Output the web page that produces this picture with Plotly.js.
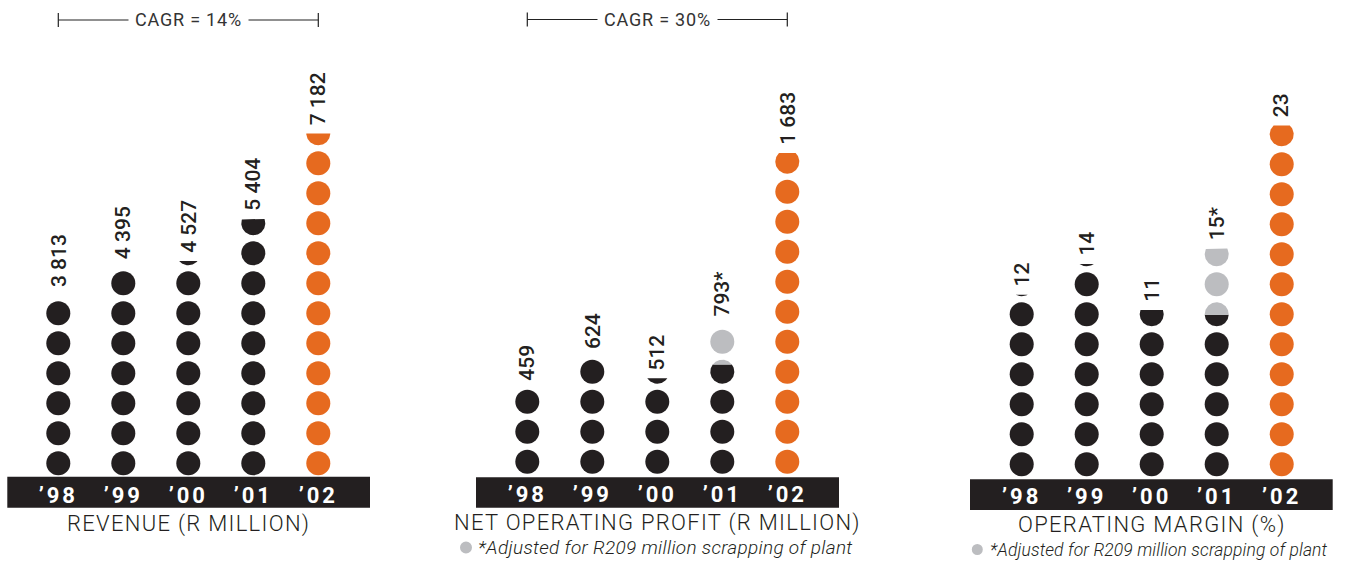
<!DOCTYPE html>
<html><head><meta charset="utf-8">
<script src="https://cdn.plot.ly/plotly-3.0.1.min.js"></script>
<style>html,body{margin:0;padding:0;background:#fff}</style>
</head><body><div id="chart" style="width:1345px;height:562px"></div>
<script>
// ---------------- data ----------------
const years = ["’98", "’99", "’00", "’01", "’02"];

const revenue = [3813, 4395, 4527, 5404, 7182];
const revenueLabels = ["3 813", "4 395", "4 527", "5 404", "7 182"];

const profit = [459, 624, 512, 793, 1683];            // adjusted (shown total)
const profitBeforeAdj = [459, 624, 512, 584, 1683];   // black part (grey = adjustment)
const profitLabels = ["459", "624", "512", "793*", "1 683"];

const margin = [12, 14, 11, 15, 23];
const marginBeforeAdj = [12, 14, 11, 10.7, 23];
const marginLabels = ["12", "14", "11", "15*", "23"];

const revenuePerDot = 625;
const profitPerDot = 156;
const marginPerDot = 1.95;

const cagrTexts = ["CAGR = 14%", "CAGR = 30%"];
const panelTitles = ["REVENUE (R MILLION)", "NET OPERATING PROFIT (R MILLION)", "OPERATING MARGIN (%)"];
const footnote = "*Adjusted for R209 million scrapping of plant";

// ---------------- style / geometry ----------------
const W = 1345, H = 562;
const COL = 65, PITCH = 30, DIAM = 24, NY = 14;
const BLACK = "#231f20", ORANGE = "#e66a1f", GREY = "#bcbdc0";
const FONT = "Roboto, 'Open Sans', sans-serif";

const panels = [
  {values: revenue, base: revenue, unit: revenuePerDot, labels: revenueLabels,
   x0: 58.3, y0: 478.3, band: [7.3, 370, 476.7, 507.7], cagr: 0, cagrY: 20,
   title: 0, titleY: 524, foot: null},
  {values: profit, base: profitBeforeAdj, unit: profitPerDot, labels: profitLabels,
   x0: 527.3, y0: 476.7, band: [476, 839, 477.3, 507.7], cagr: 1, cagrY: 19.5,
   title: 1, titleY: 523, foot: {y: 547.5, dotX: 466, d: 12, textX: 476, size: 19, ls: 0.3}},
  {values: margin, base: marginBeforeAdj, unit: marginPerDot, labels: marginLabels,
   x0: 1021.7, y0: 479.3, band: [970, 1332.7, 479.3, 510], cagr: null,
   title: 2, titleY: 525, foot: {y: 549.5, dotX: 977.3, d: 11, textX: 988, size: 17.5, ls: 0.1}}
];

const py = v => 1 - v / H;
const traces = [], shapes = [], annotations = [];
const layout = {
  width: W, height: H, margin: {l: 0, r: 0, t: 0, b: 0},
  paper_bgcolor: "#fff", plot_bgcolor: "rgba(0,0,0,0)", showlegend: false,
  font: {family: FONT, color: BLACK}
};

panels.forEach((p, pi) => {
  const sfx = pi === 0 ? "" : String(pi + 1);
  const xa = "x" + sfx, ya = "y" + sfx;
  layout["xaxis" + sfx] = {
    domain: [(p.x0 - COL / 2) / W, (p.x0 + 4 * COL + COL / 2) / W],
    range: [-0.5, 4.5], anchor: ya, fixedrange: true,
    tickmode: "array", tickvals: [0, 1, 2, 3, 4],
    ticktext: years.map(t => '<span style="letter-spacing:3px">' + t + '</span>'),
    tickfont: {family: FONT, size: 22, color: "#fff", weight: 700},
    ticks: "", showgrid: false, zeroline: false, showline: false, ticklabelstandoff: 2
  };
  layout["yaxis" + sfx] = {
    domain: [py(p.y0), py(p.y0 - NY * PITCH)], range: [0, NY], anchor: xa,
    visible: false, fixedrange: true
  };

  const rx = (DIAM / 2) / COL, ry = (DIAM / 2) / PITCH;
  const full = {}, part = {};
  const addFull = (c, x, y) => { (full[c] = full[c] || {x: [], y: []}); full[c].x.push(x); full[c].y.push(y); };
  const addPart = (c, cx, cy, lo, hi) => {
    const o = (part[c] = part[c] || {x: [], y: []});
    const a0 = Math.asin(Math.max(-1, Math.min(1, (lo - cy) / ry)));
    const a1 = Math.asin(Math.max(-1, Math.min(1, (hi - cy) / ry)));
    const N = 40;
    for (let s = 0; s <= N; s++) { const a = a0 + (a1 - a0) * s / N; o.x.push(cx + rx * Math.cos(a)); o.y.push(cy + ry * Math.sin(a)); }
    for (let s = 0; s <= N; s++) { const a = a1 + (a0 - a1) * s / N; o.x.push(cx - rx * Math.cos(a)); o.y.push(cy + ry * Math.sin(a)); }
    o.x.push(null); o.y.push(null);
  };

  p.values.forEach((v, i) => {
    const main = i === 4 ? ORANGE : BLACK;
    const segs = [{a: 0, b: p.base[i] / p.unit, c: main}, {a: p.base[i] / p.unit, b: v / p.unit, c: GREY}];
    const top = v / p.unit;
    for (let k = 0; k < Math.ceil(top) + 1; k++) {
      const d0 = k + 0.5 - ry, d1 = k + 0.5 + ry;
      segs.forEach(s => {
        const lo = Math.max(s.a, d0), hi = Math.min(s.b, d1);
        if (hi <= lo + 1e-6) return;
        if (lo <= d0 + 1e-6 && hi >= d1 - 1e-6) addFull(s.c, i, k + 0.5);
        else addPart(s.c, i, k + 0.5, lo, hi);
      });
    }
    annotations.push({
      x: i, y: top, xref: xa, yref: ya, text: p.labels[i], showarrow: false,
      textangle: -90, xanchor: "center", yanchor: "bottom", yshift: 6,
      font: {family: FONT, size: 21, color: BLACK, weight: 500}
    });
  });

  Object.keys(full).forEach(c => traces.push({
    type: "scatter", mode: "markers", x: full[c].x, y: full[c].y, xaxis: xa, yaxis: ya,
    marker: {color: c, size: DIAM, line: {width: 0}}, cliponaxis: false, hoverinfo: "skip"
  }));
  Object.keys(part).forEach(c => traces.push({
    type: "scatter", mode: "lines", x: part[c].x, y: part[c].y, xaxis: xa, yaxis: ya,
    fill: "toself", fillcolor: c, line: {width: 0, color: c}, hoverinfo: "skip"
  }));

  // black band
  shapes.push({type: "rect", xref: "paper", yref: "paper", layer: "below",
    x0: p.band[0] / W, x1: p.band[1] / W, y0: py(p.band[3]), y1: py(p.band[2]),
    fillcolor: BLACK, line: {width: 0}});

  // CAGR bracket
  if (p.cagr !== null) {
    shapes.push({type: "line", xref: xa, yref: "paper", x0: 0, x1: 4, y0: py(p.cagrY), y1: py(p.cagrY), line: {color: "#222", width: 1.2}});
    shapes.push({type: "line", xref: xa, yref: "paper", x0: 0, x1: 0, y0: py(p.cagrY - 7), y1: py(p.cagrY + 7), line: {color: "#222", width: 1.2}});
    shapes.push({type: "line", xref: xa, yref: "paper", x0: 4, x1: 4, y0: py(p.cagrY - 7), y1: py(p.cagrY + 7), line: {color: "#222", width: 1.2}});
    annotations.push({x: 2, y: py(p.cagrY), xref: xa, yref: "paper",
      text: '<span style="letter-spacing:0.8px">' + cagrTexts[p.cagr] + '</span>', showarrow: false,
      bgcolor: "#fff", borderpad: 6, xanchor: "center", yanchor: "middle",
      font: {family: FONT, size: 18, color: "#333"}});
  }

  // title
  annotations.push({x: 2, y: py(p.titleY), xref: xa, yref: "paper", showarrow: false,
    text: '<span style="letter-spacing:1.3px">' + panelTitles[p.title] + '</span>',
    xanchor: "center", yanchor: "middle", font: {family: FONT, size: 22, color: BLACK, weight: 300}});

  if (p.foot) {
    const f = p.foot;
    shapes.push({type: "circle", xref: "paper", yref: "paper",
      x0: (f.dotX - f.d / 2) / W, x1: (f.dotX + f.d / 2) / W,
      y0: py(f.y + f.d / 2), y1: py(f.y - f.d / 2), fillcolor: GREY, line: {width: 0}});
    annotations.push({x: f.textX / W, y: py(f.y), xref: "paper", yref: "paper", showarrow: false,
      text: '<span style="letter-spacing:' + f.ls + 'px"><i>' + footnote + '</i></span>',
      xanchor: "left", yanchor: "middle", font: {family: FONT, size: f.size, color: BLACK, weight: 300}});
  }
});

layout.shapes = shapes;
layout.annotations = annotations;
Plotly.newPlot("chart", traces, layout, {displayModeBar: false, staticPlot: true});
</script>
</body></html>
